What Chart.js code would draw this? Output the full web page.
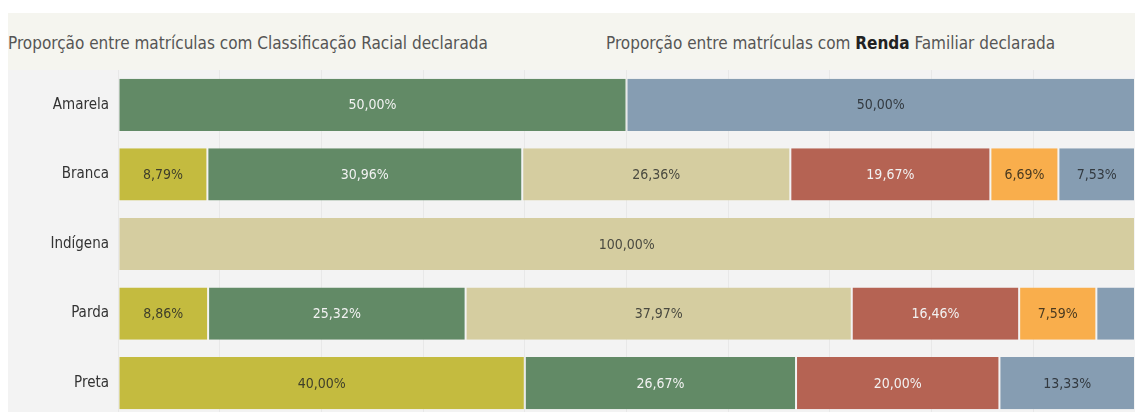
<!DOCTYPE html>
<html>
<head>
<meta charset="utf-8">
<script src="https://cdn.jsdelivr.net/npm/chart.js@4/dist/chart.umd.min.js"></script>
<style>
  html, body { margin: 0; padding: 0; background: #fff; }
  body { width: 1135px; height: 412px; overflow: hidden; position: relative;
         font-family: "DejaVu Sans Condensed", "Liberation Sans Narrow", sans-serif; }
  #header { position: absolute; left: 8px; top: 13px; width: 1127px; height: 57px; background: #f5f5ef; }
  .title { position: absolute; top: 20px; font-size: 17px; color: #555; white-space: nowrap; }
  .title b { color: #222; }
  #wrap { position: absolute; left: 8px; top: 70px; width: 1127px; height: 348px; background: #f3f3f3; }
</style>
</head>
<body>
<div id="header">
  <div class="title" style="left:0px">Proporção entre matrículas com Classificação Racial declarada</div>
  <div class="title" style="left:598px">Proporção entre matrículas com <b>Renda</b> Familiar declarada</div>
</div>
<div id="wrap"><canvas id="barChart" width="1127" height="348"></canvas></div>
<script>
const categories = ["Amarela", "Branca", "Indígena", "Parda", "Preta"];

// percent of enrolments per segment
const faixa1 = [null, 8.79, null, 8.86, 40.0];
const faixa2 = [50.0, 30.96, null, 25.32, 26.67];
const faixa3 = [null, 26.36, 100.0, 37.97, null];
const faixa4 = [null, 19.67, null, 16.46, 20.0];
const faixa5 = [null, 6.69, null, 7.59, null];
const faixa6 = [50.0, 7.53, null, 3.80, 13.33];

const FONT = "'DejaVu Sans Condensed', 'Liberation Sans Narrow', sans-serif";

const series = [
  { data: faixa1, color: "#c4bb3f", text: "#3f3f2a" },
  { data: faixa2, color: "#628a66", text: "#f2f2f2" },
  { data: faixa3, color: "#d5cda0", text: "#4a4a40" },
  { data: faixa4, color: "#b56353", text: "#f2f2f2" },
  { data: faixa5, color: "#f9ae4c", text: "#4a3a20" },
  { data: faixa6, color: "#869db2", text: "#333a40" },
];

const segmentLabels = {
  id: "segmentLabels",
  afterDatasetsDraw(chart) {
    const ctx = chart.ctx;
    ctx.save();
    ctx.font = "14px " + FONT;
    ctx.textAlign = "center";
    ctx.textBaseline = "middle";
    chart.data.datasets.forEach((ds, i) => {
      const meta = chart.getDatasetMeta(i);
      meta.data.forEach((bar, j) => {
        const v = ds.data[j];
        if (v == null) return;
        const w = Math.abs(bar.x - bar.base);
        if (w < 45) return;
        const txt = v.toFixed(2).replace(".", ",") + "%";
        ctx.fillStyle = series[i].text;
        const right = Math.min(bar.x, chart.chartArea.right);
        ctx.fillText(txt, (bar.base + right) / 2, bar.y + 1);
      });
    });
    ctx.restore();
  }
};

const ctx = document.getElementById("barChart").getContext("2d");
const chart = new Chart(ctx, {
  type: "bar",
  data: {
    labels: categories,
    datasets: series.map((s) => ({
      data: s.data,
      backgroundColor: s.color,
      borderColor: "rgba(255,255,255,0.12)",
      borderWidth: { left: 1, right: 1, top: 0, bottom: 0 },
      borderSkipped: false,
      barPercentage: 0.75,
      categoryPercentage: 1.0,
    })),
  },
  options: {
    indexAxis: "y",
    responsive: false,
    animation: false,
    layout: { padding: 0 },
    plugins: {
      legend: { display: false },
      tooltip: { enabled: false },
    },
    scales: {
      x: {
        stacked: true,
        min: 0,
        max: 100,
        ticks: { display: false, stepSize: 10 },
        grid: { color: "#e8e8e8", drawTicks: false },
        border: { display: false },
        afterFit(scale) {
          scale.height = 0;
          scale.paddingLeft = 0;
          scale.paddingRight = 0;
        },
      },
      y: {
        stacked: true,
        grid: { display: false, drawTicks: false },
        border: { display: false },
        ticks: {
          color: "#333",
          padding: 9,
          font: { family: FONT, size: 15 },
        },
        afterFit(scale) {
          scale.width = 110;
          scale.paddingTop = 0;
          scale.paddingBottom = 0;
        },
      },
    },
  },
  plugins: [segmentLabels],
});
</script>
</body>
</html>
